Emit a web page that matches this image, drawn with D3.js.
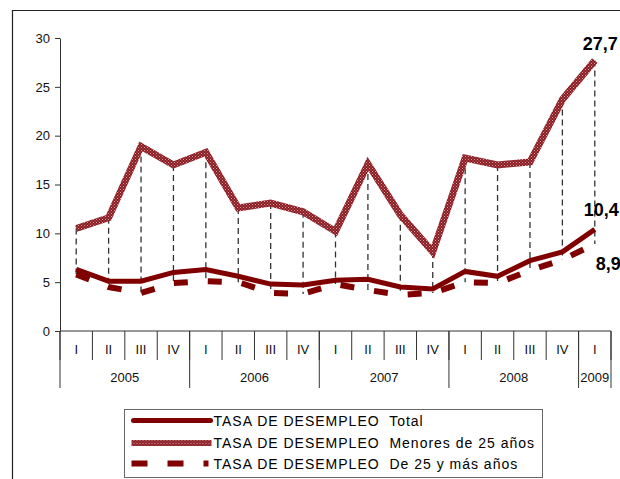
<!DOCTYPE html>
<html>
<head>
<meta charset="utf-8">
<script src="https://cdn.jsdelivr.net/npm/d3@7"></script>
<style>
  body { margin: 0; background: #fff; }
  svg { display: block; font-family: "Liberation Sans", Arial, sans-serif; }
</style>
</head>
<body>
<div id="chart"></div>
<script>
// datos (tasa de desempleo trimestral)
const quarters = ["I", "II", "III", "IV", "I", "II", "III", "IV", "I", "II", "III", "IV", "I", "II", "III", "IV", "I"];
const years = ["2005", "2006", "2007", "2008", "2009"];
const quartersPerYear = [4, 4, 4, 4, 1];
const total = [6.3, 5.1, 5.1, 6.0, 6.3, 5.6, 4.8, 4.7, 5.2, 5.3, 4.5, 4.3, 6.1, 5.6, 7.2, 8.1, 10.4];
const menores25 = [10.5, 11.6, 18.9, 17.0, 18.3, 12.6, 13.1, 12.2, 10.2, 17.1, 11.9, 8.1, 17.7, 17.0, 17.3, 23.7, 27.7];
const mas25 = [5.8, 4.5, 3.9, 4.9, 5.1, 5.0, 3.9, 3.8, 4.8, 4.2, 3.7, 3.9, 5.0, 4.9, 6.2, 7.3, 8.9];
const yTicks = [0, 5, 10, 15, 20, 25, 30];
const seriesNames = [
  "TASA DE DESEMPLEO  Total",
  "TASA DE DESEMPLEO  Menores de 25 años",
  "TASA DE DESEMPLEO  De 25 y más años",
];

const width = 620;
const height = 479;
const margins = { top: 38, left: 60, right: 9, bottom: 148 };
const red = "#800000";

const svg = d3.select("#chart").append("svg")
  .attr("width", width)
  .attr("height", height);

// patron cuadriculado para la serie de menores de 25
const defs = svg.append("defs");
const pat = defs.append("pattern")
  .attr("id", "checker")
  .attr("patternUnits", "userSpaceOnUse")
  .attr("width", 3)
  .attr("height", 3);
pat.append("rect").attr("width", 3).attr("height", 3).attr("fill", "#8a1a22");
pat.append("rect").attr("x", 0).attr("y", 0).attr("width", 1).attr("height", 1).attr("fill", "#d4a0a0");
pat.append("rect").attr("x", 1.5).attr("y", 1.5).attr("width", 1).attr("height", 1).attr("fill", "#c48888");

// borde del area del grafico
svg.append("path")
  .attr("d", `M12.5,${height} L12.5,10.5 L${width},10.5`)
  .attr("fill", "none")
  .attr("stroke", "#222")
  .attr("stroke-width", 1.2);

const x = d3.scaleBand()
  .domain(d3.range(quarters.length))
  .range([margins.left, width - margins.right]);
const y = d3.scaleLinear()
  .domain([0, 30])
  .range([height - margins.bottom, margins.top]);
const cx = (i) => x(i) + x.bandwidth() / 2;

// eje y
svg.append("g")
  .attr("transform", `translate(${margins.left},0)`)
  .call(d3.axisLeft(y).tickValues(yTicks).tickSize(5).tickPadding(5).tickSizeOuter(0))
  .call((g) => g.selectAll("text").attr("font-size", 13).attr("fill", "#111"))
  .call((g) => g.selectAll("line, path").attr("stroke", "#333"))
  .attr("font-family", null);

// eje x (trimestres y años)
const y0 = y(0);
const xAxis = svg.append("g");
xAxis.append("line")
  .attr("x1", margins.left).attr("x2", width - margins.right)
  .attr("y1", y0).attr("y2", y0)
  .attr("stroke", "#333");

xAxis.selectAll(".qtick")
  .data(d3.range(quarters.length + 1))
  .join("line")
  .attr("x1", (i) => i < quarters.length ? x(i) : x(i - 1) + x.bandwidth())
  .attr("x2", (i) => i < quarters.length ? x(i) : x(i - 1) + x.bandwidth())
  .attr("y1", y0)
  .attr("y2", y0 + 29)
  .attr("stroke", "#333");

xAxis.selectAll(".qlabel")
  .data(quarters)
  .join("text")
  .attr("x", (d, i) => cx(i))
  .attr("y", y0 + 23)
  .attr("text-anchor", "middle")
  .attr("font-size", 13)
  .attr("fill", "#111")
  .text((d) => d);

const yearStarts = quartersPerYear.map((n, i) => d3.sum(quartersPerYear.slice(0, i)));
const edge = (k) => k < quarters.length ? x(k) : x(k - 1) + x.bandwidth();

xAxis.selectAll(".ysep")
  .data(yearStarts.concat([quarters.length]))
  .join("line")
  .attr("x1", (k) => edge(k))
  .attr("x2", (k) => edge(k))
  .attr("y1", y0)
  .attr("y2", y0 + 57)
  .attr("stroke", "#333");

xAxis.selectAll(".ylabel")
  .data(years)
  .join("text")
  .attr("x", (d, i) => (edge(yearStarts[i]) + edge(yearStarts[i] + quartersPerYear[i])) / 2)
  .attr("y", y0 + 51)
  .attr("text-anchor", "middle")
  .attr("font-size", 13)
  .attr("fill", "#111")
  .text((d) => d);

// lineas de maximo y minimo
svg.append("g")
  .selectAll("line")
  .data(quarters.map((q, i) => i))
  .join("line")
  .attr("x1", cx).attr("x2", cx)
  .attr("y1", (i) => y(Math.max(total[i], menores25[i], mas25[i])))
  .attr("y2", (i) => y(Math.min(total[i], menores25[i], mas25[i])))
  .attr("stroke", "#333")
  .attr("stroke-width", 1.3)
  .attr("stroke-dasharray", "6,4");

const line = d3.line().x((d, i) => cx(i)).y((d) => y(d));

svg.append("path")
  .datum(mas25)
  .attr("d", line)
  .attr("fill", "none")
  .attr("stroke", red)
  .attr("stroke-width", 6)
  .attr("stroke-dasharray", "14,20");

svg.append("path")
  .datum(menores25)
  .attr("d", line)
  .attr("fill", "none")
  .attr("stroke", "url(#checker)")
  .attr("stroke-width", 7);

svg.append("path")
  .datum(total)
  .attr("d", line)
  .attr("fill", "none")
  .attr("stroke", red)
  .attr("stroke-width", 5);

// etiquetas del ultimo valor
const fmt = (v) => d3.format(".1f")(v).replace(".", ",");
const last = quarters.length - 1;
const endLabels = [
  { v: menores25[last], dx: -12, dy: -10 },
  { v: total[last], dx: -11, dy: -13 },
  { v: mas25[last], dx: 1, dy: 26 },
];
svg.selectAll(".endlabel")
  .data(endLabels)
  .join("text")
  .attr("x", (d) => cx(last) + d.dx)
  .attr("y", (d) => y(d.v) + d.dy)
  .attr("font-size", 18)
  .attr("font-weight", "bold")
  .attr("fill", "#000")
  .text((d) => fmt(d.v));

// leyenda
const legend = svg.append("g").attr("transform", "translate(124.5,409.5)");
legend.append("rect")
  .attr("width", 418)
  .attr("height", 68)
  .attr("fill", "#fff")
  .attr("stroke", "#666");

const rows = legend.selectAll(".row")
  .data(seriesNames)
  .join("g")
  .attr("transform", (d, i) => `translate(0,${[11, 33.5, 54][i]})`);

rows.filter((d, i) => i === 0).append("line")
  .attr("x1", 9).attr("x2", 86)
  .attr("stroke", red).attr("stroke-width", 5).attr("stroke-linecap", "round");
rows.filter((d, i) => i === 1).append("rect")
  .attr("x", 7).attr("y", -3).attr("width", 80).attr("height", 6)
  .attr("fill", "url(#checker)");
rows.filter((d, i) => i === 2).append("line")
  .attr("x1", 7).attr("x2", 84)
  .attr("stroke", red).attr("stroke-width", 6).attr("stroke-dasharray", "16,20");

rows.append("text")
  .attr("x", 89)
  .attr("y", 5)
  .attr("font-size", 14)
  .attr("letter-spacing", 1)
  .attr("fill", "#000")
  .attr("xml:space", "preserve")
  .style("white-space", "pre")
  .text((d) => d);
</script>
</body>
</html>
